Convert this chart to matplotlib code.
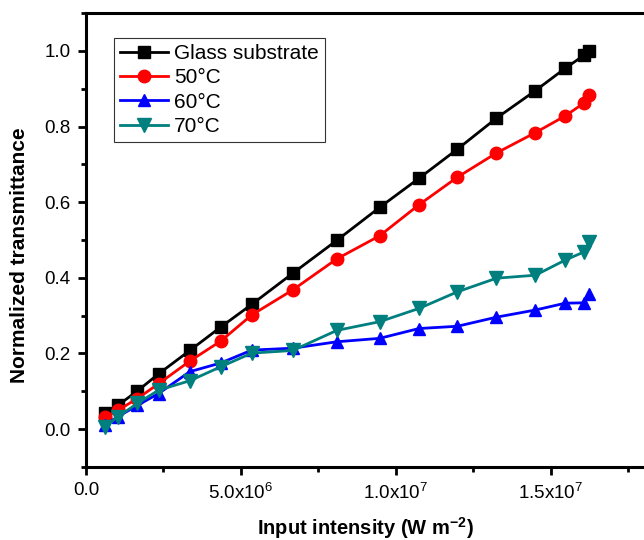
import matplotlib
matplotlib.use("Agg")
import matplotlib.pyplot as plt
import numpy as np
from matplotlib.ticker import MultipleLocator, FuncFormatter

plt.rcParams['font.family'] = ['Liberation Sans', 'DejaVu Sans']
plt.rcParams['mathtext.fontset'] = 'custom'
plt.rcParams['mathtext.rm'] = 'Liberation Sans'
plt.rcParams['mathtext.bf'] = 'Liberation Sans:bold'

# input intensity (W m^-2)
intensity = np.array([0.61, 1.03, 1.66, 2.34, 3.35, 4.35, 5.35, 6.67, 8.09, 9.47,
                      10.74, 11.98, 13.24, 14.50, 15.46, 16.08, 16.24]) * 1e6

glass = [0.042, 0.063, 0.101, 0.146, 0.208, 0.270, 0.330, 0.412, 0.499, 0.586,
         0.663, 0.740, 0.822, 0.895, 0.954, 0.989, 1.000]
t50 = [0.031, 0.050, 0.081, 0.120, 0.180, 0.233, 0.302, 0.368, 0.450, 0.511,
       0.593, 0.666, 0.730, 0.784, 0.828, 0.863, 0.884]
t60 = [0.011, 0.033, 0.063, 0.094, 0.152, 0.175, 0.209, 0.214, 0.231, 0.240,
       0.266, 0.272, 0.296, 0.315, 0.333, 0.334, 0.357]
t70 = [0.006, 0.033, 0.068, 0.103, 0.128, 0.165, 0.201, 0.208, 0.261, 0.284,
       0.319, 0.363, 0.399, 0.407, 0.447, 0.469, 0.496]

fig = plt.figure(figsize=(6.44, 5.4), dpi=100)
ax = fig.add_axes([0.1335, 0.1352, 0.8665, 0.8407])

lw = 2.0
ms = 8.5
ax.plot(intensity, glass, '-s', color='black', lw=lw, ms=ms, label='Glass substrate')
ax.plot(intensity, t50, '-o', color='red', lw=lw, ms=ms + 0.5, label='50\u00b0C')
ax.plot(intensity, t60, '-^', color='blue', lw=lw, ms=ms + 0.5, label='60\u00b0C')
ax.plot(intensity, t70, '-v', color='#007f7f', lw=lw, ms=ms + 1, label='70\u00b0C')

ax.set_xlim(0, 1.8e7)
ax.set_ylim(-0.1, 1.1)

ax.xaxis.set_major_locator(MultipleLocator(5e6))
ax.xaxis.set_minor_locator(MultipleLocator(2.5e6))
ax.yaxis.set_major_locator(MultipleLocator(0.2))
ax.yaxis.set_minor_locator(MultipleLocator(0.1))


def xfmt(v, pos):
    if v <= 0:
        return '0.0' if abs(v) < 1 else ''
    e = int(np.floor(np.log10(v)))
    return r'%.1fx10$^{%d}$' % (v / 10 ** e, e)


def yfmt(v, pos):
    if v < -0.05:
        return ''
    return '%.1f' % abs(v)


ax.xaxis.set_major_formatter(FuncFormatter(xfmt))
ax.yaxis.set_major_formatter(FuncFormatter(yfmt))

for side in ['left', 'bottom', 'top']:
    ax.spines[side].set_linewidth(2.2)
ax.spines['right'].set_visible(False)

ax.tick_params(which='both', direction='out', width=2, top=False, right=False,
               labelsize=13.5)
ax.tick_params(which='major', length=6, pad=5)
ax.tick_params(which='minor', length=3.5)

ax.set_xlabel('Input intensity (W m$^{\\mathbf{-2}}$)', fontsize=14.5, fontweight='bold')
ax.xaxis.set_label_coords(0.5, -0.105)
ax.set_ylabel('Normalized transmittance', fontsize=15, fontweight='bold')
ax.yaxis.set_label_coords(-0.102, 0.466)

leg = ax.legend(loc='upper left', bbox_to_anchor=(0.05, 0.945), borderaxespad=0,
                fontsize=15, frameon=True, fancybox=False, edgecolor='black',
                handlelength=2.3, handletextpad=0.3, borderpad=0.3, labelspacing=0.25)
leg.get_frame().set_linewidth(0.8)

fig.savefig('out.png', dpi=100)
